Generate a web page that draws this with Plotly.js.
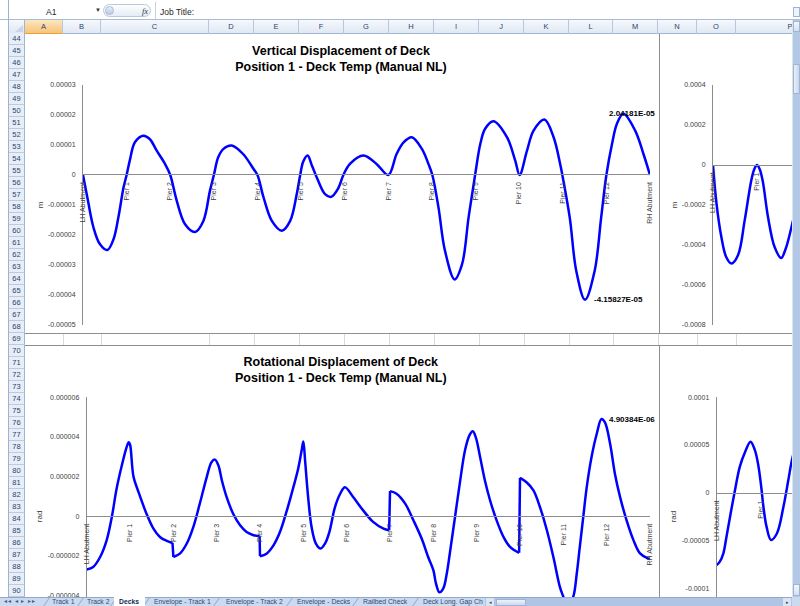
<!DOCTYPE html>
<html>
<head>
<meta charset="utf-8">
<script src="https://cdn.plot.ly/plotly-3.0.1.min.js"></script>
<style>
html,body{margin:0;padding:0;}
body{width:800px;height:606px;overflow:hidden;position:relative;background:#fff;font-family:"Liberation Sans",Arial,sans-serif;}
#plot{position:absolute;left:0;top:0;width:800px;height:640px;z-index:2;}
.ch{position:absolute;z-index:3;box-sizing:border-box;white-space:nowrap;}
.bg{position:absolute;z-index:1;box-sizing:border-box;}
</style>
</head>
<body>
<div id="plot"></div>
<script>
// ---------------- DATA ----------------
const supports = ['LH Abutment','Pier 1','Pier 2','Pier 3','Pier 4','Pier 5','Pier 6','Pier 7','Pier 8','Pier 9','Pier 10','Pier 11','Pier 12','RH Abutment'];
const supportPos = [0,1,2,3,4,5,6,7,8,9,10,11,12,13];

// Vertical displacement (m), main chart
const vertPos = [0,0.1,0.24,0.39,0.56,0.70,0.81,0.93,1.0,1.08,1.19,1.38,1.53,1.69,1.88,2.0,2.15,2.34,2.57,2.76,2.91,3.0,3.10,3.22,3.41,3.67,3.91,4.0,4.14,4.33,4.56,4.75,4.90,4.98,5.05,5.15,5.25,5.36,5.55,5.69,5.85,5.97,6.12,6.43,6.73,7.0,7.19,7.35,7.54,7.77,7.92,8.01,8.15,8.30,8.52,8.69,8.84,8.99,9.11,9.22,9.41,9.72,9.91,10.01,10.18,10.33,10.58,10.79,10.94,10.99,11.16,11.31,11.51,11.73,11.88,12.0,12.13,12.24,12.39,12.66,12.85,13.0];
const vertVals = [0,-0.75e-5,-1.75e-5,-2.31e-5,-2.50e-5,-2.14e-5,-1.42e-5,-0.41e-5,0,0.53e-5,1.09e-5,1.31e-5,1.20e-5,0.81e-5,0.37e-5,0,-0.86e-5,-1.64e-5,-1.90e-5,-1.53e-5,-0.53e-5,0,0.59e-5,0.87e-5,0.98e-5,0.70e-5,0.20e-5,0,-0.75e-5,-1.53e-5,-1.86e-5,-1.53e-5,-0.64e-5,0,0.45e-5,0.65e-5,0.31e-5,-0.08e-5,-0.64e-5,-0.73e-5,-0.45e-5,0,0.37e-5,0.65e-5,0.37e-5,0,0.70e-5,1.09e-5,1.26e-5,0.87e-5,0.37e-5,0,-1.08e-5,-2.53e-5,-3.48e-5,-2.98e-5,-1.42e-5,0,1.04e-5,1.54e-5,1.79e-5,1.26e-5,0.48e-5,0,0.81e-5,1.48e-5,1.85e-5,1.26e-5,0.37e-5,0,-1.42e-5,-3.20e-5,-4.158e-5,-3.20e-5,-1.42e-5,0,1.04e-5,1.70e-5,2.042e-5,1.48e-5,0.70e-5,0];
const vertTickVals = [0.00003,0.00002,0.00001,0,-0.00001,-0.00002,-0.00003,-0.00004,-0.00005];
const vertTickText = ['0.00003','0.00002','0.00001','0','-0.00001','-0.00002','-0.00003','-0.00004','-0.00005'];
const vertMaxLabel = '2.04181E-05';
const vertMinLabel = '-4.15827E-05';

// Vertical displacement (m), right-hand chart (partly visible)
const vertRightPos = [0,0.08,0.19,0.30,0.42,0.57,0.72,0.87,0.94,1.0,1.06,1.13,1.25,1.40,1.55,1.65,1.77,1.9];
const vertRightVals = [0,-1.93e-4,-3.60e-4,-4.60e-4,-4.93e-4,-4.50e-4,-2.77e-4,-0.77e-4,-0.2e-4,0,-0.2e-4,-0.8e-4,-2.60e-4,-4.10e-4,-4.65e-4,-4.2e-4,-3.23e-4,-2.0e-4];
const vertRightTickVals = [0.0004,0.0002,0,-0.0002,-0.0004,-0.0006,-0.0008];
const vertRightTickText = ['0.0004','0.0002','0','-0.0002','-0.0004','-0.0006','-0.0008'];

// Rotational displacement (rad), main chart
const rotPos = [0,0.15,0.31,0.46,0.58,0.69,0.81,0.92,0.97,1.0,1.08,1.20,1.38,1.54,1.69,1.85,1.98,2.0,2.15,2.31,2.46,2.61,2.77,2.88,2.96,3.04,3.12,3.23,3.38,3.54,3.69,3.85,3.99,4.0,4.15,4.31,4.46,4.62,4.77,4.88,4.96,5.0,5.04,5.11,5.19,5.29,5.40,5.50,5.60,5.73,5.85,5.96,6.15,6.38,6.61,6.85,6.98,7.0,7.15,7.35,7.54,7.73,7.88,8.0,8.06,8.14,8.23,8.31,8.38,8.50,8.62,8.73,8.83,8.91,8.98,9.08,9.19,9.31,9.46,9.62,9.77,9.98,10.0,10.15,10.31,10.46,10.62,10.77,10.92,11.0,11.1,11.23,11.31,11.38,11.46,11.54,11.65,11.77,11.88,11.96,12.08,12.19,12.31,12.46,12.62,12.77,12.96,13.0];
const rotVals = [-2.68e-6,-2.55e-6,-2.05e-6,-1.21e-6,-0.03e-6,1.39e-6,2.56e-6,3.48e-6,3.73e-6,3.62e-6,2.0e-6,1.2e-6,0.13e-6,-0.62e-6,-1.04e-6,-1.24e-6,-1.34e-6,-2.05e-6,-1.88e-6,-1.37e-6,-0.54e-6,0.64e-6,1.98e-6,2.73e-6,2.86e-6,2.56e-6,1.81e-6,0.97e-6,0.13e-6,-0.45e-6,-0.79e-6,-0.95e-6,-1.0e-6,-2.01e-6,-1.88e-6,-1.46e-6,-0.79e-6,0.30e-6,1.47e-6,2.40e-6,3.32e-6,3.77e-6,2.81e-6,0.97e-6,-0.54e-6,-1.37e-6,-1.62e-6,-1.37e-6,-0.79e-6,0.47e-6,1.14e-6,1.47e-6,0.97e-6,0.30e-6,-0.28e-6,-0.62e-6,-0.70e-6,1.27e-6,1.14e-6,0.64e-6,-0.20e-6,-1.12e-6,-2.05e-6,-2.71e-6,-3.38e-6,-3.83e-6,-3.63e-6,-2.88e-6,-1.87e-6,-0.03e-6,1.81e-6,3.32e-6,4.07e-6,4.29e-6,3.98e-6,2.98e-6,1.81e-6,0.80e-6,-0.20e-6,-1.04e-6,-1.54e-6,-1.84e-6,1.94e-6,1.72e-6,1.31e-6,0.47e-6,-0.70e-6,-2.05e-6,-3.55e-6,-4.05e-6,-4.6e-6,-4.05e-6,-2.88e-6,-1.54e-6,-0.03e-6,1.47e-6,2.98e-6,4.15e-6,4.904e-6,4.74e-6,3.65e-6,2.15e-6,0.97e-6,-0.20e-6,-1.21e-6,-1.87e-6,-2.13e-6,-2.15e-6];
const rotTickVals = [0.000006,0.000004,0.000002,0,-0.000002,-0.000004];
const rotTickText = ['0.000006','0.000004','0.000002','0','-0.000002','-0.000004'];
const rotMaxLabel = '4.90384E-06';

// Rotational displacement (rad), right-hand chart (partly visible)
const rotRightPos = [0,0.07,0.15,0.22,0.30,0.40,0.52,0.64,0.76,0.86,0.94,1.0,1.05,1.12,1.22,1.35,1.50,1.61,1.69,1.78];
const rotRightVals = [-7.58e-5,-7.23e-5,-6.35e-5,-4.61e-5,-2.52e-5,0,2.73e-5,4.30e-5,5.35e-5,4.44e-5,2.73e-5,0.63e-5,-1.47e-5,-3.56e-5,-4.96e-5,-4.30e-5,-1.47e-5,1.33e-5,3.40e-5,5.0e-5];
const rotRightTickVals = [0.0001,0.00005,0,-0.00005,-0.0001];
const rotRightTickText = ['0.0001','0.00005','0','-0.00005','-0.0001'];

const topTitle = 'Vertical Displacement of Deck';
const bottomTitle = 'Rotational Displacement of Deck';
const subTitle = 'Position 1 - Deck Temp (Manual NL)';

// ---------------- SPREADSHEET FRAME ----------------
function el(cls, css, text){ const d=document.createElement('div'); d.className=cls; d.style.cssText=css; if(text!=null) d.textContent=text; document.body.appendChild(d); return d; }

// chart areas (under the plot)
el('bg','left:25px;top:33px;width:635px;height:301px;background:#fff;border:1px solid #8e8e8e;border-left:none;border-top:none;');
el('bg','left:659px;top:33px;width:200px;height:301px;background:#fff;border:1px solid #8e8e8e;border-top:none;');
el('bg','left:25px;top:345px;width:635px;height:300px;background:#fff;border:1px solid #8e8e8e;border-left:none;');
el('bg','left:659px;top:345px;width:200px;height:300px;background:#fff;border:1px solid #8e8e8e;');
// row 69 cell grid
const colEdges = [25,63,101,209,254,299,344,389,434,479,524,569,613,658,697,736,845];
const colNames = ['A','B','C','D','E','F','G','H','I','J','K','L','M','N','O','P'];
colEdges.slice(1,-1).forEach(x=>el('bg',`left:${x}px;top:334px;width:1px;height:11px;background:#d4d9e2;`));

// formula bar
el('ch','left:0;top:0;width:800px;height:20px;background:#fff;border-bottom:1px solid #a9bdd8;');
el('ch','left:46px;top:7px;font-size:8.5px;color:#1e1e1e;','A1');
el('ch','left:95px;top:7px;font-size:6px;color:#333;','\u25BC');
el('ch','left:103px;top:4px;width:48px;height:13px;border:1px solid #b9c9de;border-radius:7px;background:linear-gradient(#fdfeff,#e4ecf6);');
el('ch','left:105px;top:6px;width:9px;height:9px;border-radius:50%;background:linear-gradient(#e7eef8,#b9cbe3);border:1px solid #a8bbd6;');
el('ch','left:142px;top:6px;font-size:8.5px;font-style:italic;font-family:"Liberation Serif",serif;color:#333;','fx');
el('ch','left:155px;top:2px;width:1px;height:17px;background:#c3d1e4;');
el('ch','left:160px;top:7px;font-size:8.5px;color:#1e1e1e;','Job Title:');
el('ch','left:793px;top:7px;width:7px;height:10px;background:#eef3fa;border:1px solid #9fb4d2;');

// left frame line
el('ch','left:8px;top:0;width:1px;height:597px;background:#9cb3d4;');

// column header
el('ch','left:9px;top:20px;width:783px;height:14px;background:linear-gradient(#f6f9fd,#e0e8f3);border-bottom:1px solid #9eb6ce;');
el('ch','left:9px;top:20px;width:16px;height:14px;background:linear-gradient(#f6f9fd,#dfe7f2);border-right:1px solid #9eb6ce;border-bottom:1px solid #9eb6ce;');
el('ch','left:15px;top:25px;width:0;height:0;border-left:8px solid transparent;border-bottom:7px solid #c9d5e6;');
for(let i=0;i<colNames.length;i++){
  const x0=colEdges[i], w=colEdges[i+1]-colEdges[i];
  const extra = i===0 ? 'background:linear-gradient(#fce7c0,#f6c47a);border-bottom:1px solid #f0a030;' : '';
  el('ch',`left:${x0}px;top:20px;width:${w}px;height:14px;border-right:1px solid #b7c8dd;font-size:7.5px;color:#2a4470;text-align:center;line-height:13px;${extra}`, colNames[i]);
}
// row headers
for(let n=44;n<=90;n++){
  const t = 33 + (n-44)*12;
  el('ch',`left:9px;top:${t}px;width:16px;height:12px;background:#e7eef7;border-bottom:1px solid #bccbdd;border-right:1px solid #9eb6ce;font-size:7.5px;color:#2a4470;text-align:center;line-height:12px;`, String(n));
}
// vertical scrollbar
el('ch','left:792px;top:20px;width:8px;height:577px;background:#b3c8e4;border-left:1px solid #dbe5f2;');
el('ch','left:793px;top:21px;width:7px;height:11px;background:linear-gradient(#f4f7fb,#d5e0ef);border:1px solid #9fb4d2;');
el('ch','left:793px;top:64px;width:7px;height:30px;background:linear-gradient(90deg,#e8eff8,#c9d8ec);border:1px solid #9fb4d2;border-radius:1px;');
el('ch','left:793px;top:584px;width:7px;height:12px;background:linear-gradient(#f4f7fb,#d5e0ef);border:1px solid #9fb4d2;');

// sheet tabs bar
el('ch','left:0;top:597px;width:800px;height:9px;background:#cbdaee;border-top:1px solid #8fa8cb;');
el('ch','left:4px;top:597px;font-size:6px;line-height:8px;color:#3b5b8c;letter-spacing:1px;','\u25C2\u25C2 \u25C2 \u25B8 \u25B8\u25B8');
const tabs = [['Track 1',52],['Track 2',87],['Decks',119],['Envelope - Track 1',154],['Envelope - Track 2',226],['Envelope - Decks',297],['Railbed Check',363],['Deck Long. Gap Ch',423]];
const tabSep = [46,80,113,146,216,289,355,415];
tabSep.forEach(x=>el('ch',`left:${x}px;top:598px;width:1px;height:8px;background:#8fa8cb;transform:skewX(-35deg);`));
el('ch','left:114px;top:597px;width:31px;height:9px;background:#fff;');
tabs.forEach(([t,x])=>{
  const b = t==='Decks' ? 'font-weight:bold;color:#0f2a55;' : 'color:#2c4b7a;';
  el('ch',`left:${x}px;top:598px;font-size:6.8px;line-height:8px;${b}`, t);
});
// horizontal scrollbar
el('ch','left:485px;top:597px;width:307px;height:9px;background:#afc5e3;border-top:1px solid #8fa8cb;');
el('ch','left:486px;top:598px;width:8px;height:8px;background:#dce6f3;font-size:5px;color:#445;line-height:8px;text-align:center;','\u25C2');
el('ch','left:496px;top:599px;width:30px;height:7px;background:linear-gradient(#eef3fa,#cbd9ec);border:1px solid #9fb4d2;');
el('ch','left:783px;top:598px;width:8px;height:8px;background:#dce6f3;font-size:5px;color:#445;line-height:8px;text-align:center;','\u25B8');
el('ch','left:792px;top:597px;width:8px;height:9px;background:#cbdaee;');

// ---------------- PLOT ----------------
const W=800, H=640;
const fx = px => px/W;
const fy = py => (H-py)/H;
const FONT = '"Liberation Sans", Arial, sans-serif';
const tickFont = {family:FONT,size:7,color:'#404040'};
const axTitleFont = {family:FONT,size:8,color:'#404040'};
const lineSpline = {color:'#0000FF',width:2.5,shape:'spline',smoothing:1};
const lineStraight = {color:'#0000FF',width:2.5,shape:'linear'};

// split the rotation series at the abrupt steps over the piers (vertical jumps drawn straight)
const rotX=[], rotY=[], stepX=[], stepY=[];
for(let i=0;i<rotPos.length;i++){
  if(i>0 && rotPos[i]-rotPos[i-1] < 0.025){
    rotX.push(null); rotY.push(null);
    stepX.push(rotPos[i-1], rotPos[i], null); stepY.push(rotVals[i-1], rotVals[i], null);
  }
  rotX.push(rotPos[i]); rotY.push(rotVals[i]);
}

function xAx(d0,d1,rng,pos){
  return {domain:[fx(d0),fx(d1)],range:rng,anchor:'free',position:fy(pos),tickmode:'array',tickvals:supportPos,ticktext:supports,
    tickangle:-90,showline:true,linecolor:'#8c8c8c',linewidth:1,showgrid:false,zeroline:false,ticks:'',tickfont:tickFont,ticklabelstandoff:4,fixedrange:true};
}
function yAx(anchor,top,bottom,rng,tv,tt,title){
  return {domain:[fy(bottom),fy(top)],range:rng,anchor:anchor,side:'left',tickmode:'array',tickvals:tv,ticktext:tt,showline:true,linecolor:'#8c8c8c',linewidth:1,
    showgrid:false,zeroline:false,ticks:'',tickfont:tickFont,ticklabelstandoff:5,title:{text:title,font:axTitleFont,standoff:3},fixedrange:true};
}

const iMax = vertVals.indexOf(Math.max(...vertVals));
const iMin = vertVals.indexOf(Math.min(...vertVals));
const iRot = rotVals.indexOf(Math.max(...rotVals));

const traces = [
  {x:vertPos,y:vertVals,xaxis:'x',yaxis:'y',mode:'lines',line:lineSpline,name:'Vertical displacement',hoverinfo:'skip'},
  {x:vertRightPos,y:vertRightVals,xaxis:'x2',yaxis:'y2',mode:'lines',line:lineSpline,name:'Vertical displacement (2)',hoverinfo:'skip'},
  {x:rotX,y:rotY,xaxis:'x3',yaxis:'y3',mode:'lines',line:lineSpline,connectgaps:false,name:'Rotational displacement',hoverinfo:'skip'},
  {x:stepX,y:stepY,xaxis:'x3',yaxis:'y3',mode:'lines',line:lineStraight,connectgaps:false,name:'Rotational displacement steps',hoverinfo:'skip'},
  {x:rotRightPos,y:rotRightVals,xaxis:'x4',yaxis:'y4',mode:'lines',line:lineSpline,name:'Rotational displacement (2)',hoverinfo:'skip'}
];

const titleFont = {family:FONT,size:12.5,color:'#000'};
const lblFont = {family:FONT,size:8,color:'#000'};

const layout = {
  width:W,height:H,margin:{l:0,r:0,t:0,b:0},
  paper_bgcolor:'rgba(0,0,0,0)',plot_bgcolor:'rgba(0,0,0,0)',
  showlegend:false,hovermode:false,
  title:{text:'<b>'+topTitle+'</b><br><b>'+subTitle+'</b>',x:fx(341),xanchor:'center',y:fy(55),yanchor:'middle',font:titleFont},
  xaxis:xAx(83,650,[0,13],174.3),
  yaxis:yAx('x',85,325,[-0.00005,0.00003],vertTickVals,vertTickText,'m'),
  xaxis2:xAx(713,792,[0,79/44],164.7),
  yaxis2:yAx('x2',85,325,[-0.0008,0.0004],vertRightTickVals,vertRightTickText,'m'),
  xaxis3:xAx(86.7,650,[0,13],516),
  yaxis3:yAx('x3',397.3,635.4,[-0.000006,0.000006],rotTickVals,rotTickText,'rad'),
  xaxis4:xAx(716.7,792,[0,75.3/44.5],492.7),
  yaxis4:yAx('x4',397.3,635.8,[-0.00015,0.0001],rotRightTickVals,rotRightTickText,'rad'),
  annotations:[
    {xref:'paper',yref:'paper',x:fx(341),y:fy(369.5),xanchor:'center',yanchor:'middle',showarrow:false,
     text:'<b>'+bottomTitle+'</b><br><b>'+subTitle+'</b>',font:titleFont},
    {xref:'x',yref:'y',x:vertPos[iMax],y:vertVals[iMax],xanchor:'left',yanchor:'middle',xshift:-16,yshift:0,showarrow:false,text:'<b>'+vertMaxLabel+'</b>',font:lblFont},
    {xref:'x',yref:'y',x:vertPos[iMin],y:vertVals[iMin],xanchor:'left',yanchor:'middle',xshift:7,yshift:0,showarrow:false,text:'<b>'+vertMinLabel+'</b>',font:lblFont},
    {xref:'x3',yref:'y3',x:rotPos[iRot],y:rotVals[iRot],xanchor:'left',yanchor:'middle',xshift:6,yshift:0,showarrow:false,text:'<b>'+rotMaxLabel+'</b>',font:lblFont}
  ]
};

Plotly.newPlot('plot',traces,layout,{staticPlot:true,displayModeBar:false});
</script>
</body>
</html>
